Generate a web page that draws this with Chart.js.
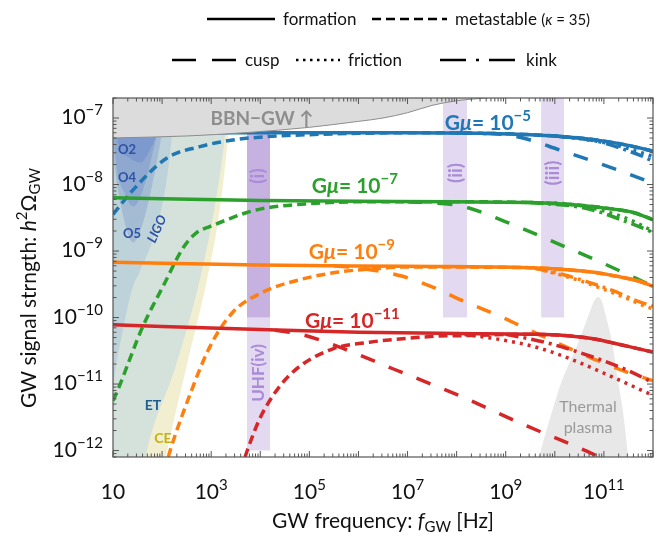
<!DOCTYPE html>
<html>
<head>
<meta charset="utf-8">
<script src="https://cdn.jsdelivr.net/npm/chart.js@4.4.1/dist/chart.umd.min.js"></script>
<style>
html, body { margin: 0; padding: 0; background: #fff; }
#wrap { width: 667px; height: 536px; }
</style>
</head>
<body>
<div id="wrap"><canvas id="gwChart" width="667" height="536"></canvas></div>
<script>
// ---- values: [log10 f / Hz, log10 h^2 Omega_GW] ----
// G mu = 1e-5
const blueFormation = [[1, -7.22], [4, -7.22], [7, -7.22], [8.5, -7.23], [9.5, -7.25], [10.5, -7.3], [11.2, -7.37], [11.9, -7.48], [12, -7.5]];
const blueMetastable = [[1, -8.45], [1.41, -8.08], [2.1, -7.6], [2.77, -7.43], [3.44, -7.33], [4.14, -7.28], [5, -7.25], [6, -7.23], [7, -7.22], [8.5, -7.23], [9.5, -7.25], [10.5, -7.3], [11.2, -7.37], [11.9, -7.48], [12, -7.5]];
const blueCusp = [[8, -7.22], [9, -7.25], [9.35, -7.3], [10.1, -7.48], [10.9, -7.68], [11.5, -7.84], [12, -7.98]];
const blueFriction = [[10, -7.27], [10.5, -7.31], [11.2, -7.4], [11.8, -7.53], [12, -7.58]];
const blueKink = [[10, -7.27], [10.8, -7.34], [11.2, -7.42], [11.8, -7.58], [12, -7.65]];
// G mu = 1e-7
const greenFormation = [[1, -8.2], [4, -8.24], [8, -8.26], [9.5, -8.27], [10.5, -8.31], [11.2, -8.37], [11.6, -8.42], [12, -8.53]];
const greenMetastable = [[1, -11.25], [1.08, -11.12], [1.61, -10.13], [2.02, -9.53], [2.43, -8.95], [2.71, -8.72], [2.98, -8.63], [3.32, -8.53], [3.73, -8.42], [4.14, -8.35], [4.95, -8.29], [6, -8.26], [8, -8.26], [9.5, -8.27], [10.5, -8.31], [11.2, -8.37], [11.6, -8.42], [12, -8.53]];
const greenCusp = [[7, -8.26], [7.6, -8.28], [8.13, -8.33], [9, -8.56], [10, -8.87], [11, -9.19], [12, -9.53]];
const greenFriction = [[9.5, -8.27], [10.37, -8.3], [11.06, -8.41], [11.5, -8.52], [12, -8.7]];
const greenKink = [[9.5, -8.27], [10.65, -8.36], [11.6, -8.6], [12, -8.72]];
// G mu = 1e-9
const orangeFormation = [[1, -9.17], [4, -9.21], [7, -9.23], [9.5, -9.25], [10.25, -9.28], [10.8, -9.32], [11.26, -9.38], [11.7, -9.45], [12, -9.53]];
const orangeMetastable = [[2.05, -12.3], [2.16, -12.01], [2.51, -11.27], [2.98, -10.43], [3.44, -9.92], [4.05, -9.62], [4.81, -9.43], [5.56, -9.32], [6.23, -9.27], [7, -9.24], [9.5, -9.25], [10.25, -9.28], [10.8, -9.32], [11.26, -9.38], [11.7, -9.45], [12, -9.53]];
const orangeCusp = [[5.5, -9.22], [6.23, -9.28], [6.9, -9.38], [7.6, -9.57], [8.13, -9.75], [8.88, -9.98], [9.43, -10.17], [10.1, -10.4], [10.78, -10.62], [11.47, -10.82], [12, -10.95]];
const orangeFriction = [[9.6, -9.26], [10.31, -9.4], [10.8, -9.52], [11.26, -9.65], [11.88, -9.84], [12, -9.87]];
const orangeKink = [[9.6, -9.26], [10.2, -9.36], [10.65, -9.46], [11.2, -9.6], [11.67, -9.75], [12, -9.83]];
// G mu = 1e-11
const redFormation = [[1, -10.11], [4, -10.18], [6, -10.22], [8, -10.24], [9.5, -10.25], [10.2, -10.27], [10.78, -10.32], [11.47, -10.43], [12, -10.52]];
const redMetastable = [[3.6, -12.3], [3.73, -12.01], [3.99, -11.52], [4.4, -11.03], [4.81, -10.73], [5.48, -10.47], [6.23, -10.37], [6.9, -10.32], [7.6, -10.28], [8.27, -10.27], [9.5, -10.25], [10.2, -10.27], [10.78, -10.32], [11.47, -10.43], [12, -10.52]];
const redCusp = [[4.3, -10.19], [4.87, -10.26], [5.56, -10.43], [6.7, -10.77], [8.07, -11.18], [9.43, -11.63], [10.65, -12.01], [11.2, -12.2]];
const redFriction = [[8, -10.24], [8.88, -10.33], [9.64, -10.45], [10.31, -10.62], [10.98, -10.83], [11.67, -11.06], [12, -11.17]];
const redKink = [[9, -10.25], [9.84, -10.38], [10.88, -10.62], [11.5, -10.8], [12, -10.98]];

// shaded regions (lower edges, filled upward) and the thermal plasma bump
const bbnBound = [[1, -7.3], [2.5, -7.27], [3.7, -7.22], [5, -7.14], [6, -7.05], [6.5, -7.0], [7, -6.92], [7.5, -6.81], [8, -6.74], [8.7, -6.69], [9.5, -6.6]];
const ceBound = [[1, -16], [2.1, -12.01], [2.5, -10.73], [2.91, -9.45], [3.15, -8.5], [3.34, -7.3], [3.42, -6.5]];
const etBound = [[1, -15], [1.69, -12.01], [2.26, -10.77], [2.77, -9.43], [3.08, -8.3], [3.28, -7.28], [3.38, -6.5]];
const ligoBound = [[0.8, -13], [1, -11.1], [1.2, -10.2], [1.4, -9.55], [1.55, -9.3], [1.81, -8.83], [2.06, -8.08], [2.2, -7.28], [2.3, -6.5]];
const o5Bound = [[0.9, -6.5], [1, -7.5], [1.2, -8.45], [1.41, -8.87], [1.6, -8.6], [1.8, -8.0], [2, -7.2], [2.12, -6.5]];
const o4Bound = [[0.95, -6.5], [1.05, -7.6], [1.25, -8.15], [1.41, -8.33], [1.6, -8.1], [1.8, -7.55], [1.95, -7.0], [2.02, -6.5]];
const o2Bound = [[1, -6.5], [1.08, -7.3], [1.3, -7.58], [1.55, -7.67], [1.75, -7.48], [1.92, -7.1], [2, -6.5]];
const thermalPlasma = [[9.6, -12.3], [9.74, -11.93], [9.94, -11.42], [10.16, -10.92], [10.45, -10.43], [10.71, -9.92], [10.8, -9.75], [10.88, -9.69], [10.95, -9.74], [11.02, -9.92], [11.18, -10.43], [11.28, -10.92], [11.39, -11.42], [11.47, -11.93], [11.52, -12.3]];

// frequency bands [log10 f low, log10 f high, log10 Omega low, log10 Omega high]
const bandI = [3.73, 4.2, -10, -6];
const bandUHF = [3.73, 4.2, -12, -10];
const bandII = [7.72, 8.21, -10, -6];
const bandIII = [9.72, 10.19, -10, -6];

// tick labels (powers of ten)
const xTickExps = [1, 3, 5, 7, 9, 11];
const yTickExps = [-7, -8, -9, -10, -11, -12];
const tensionExps = ['5', '7', '9', '11'];

const FONT = "Lato, 'DejaVu Sans', sans-serif";
const C = { blue: '#1f77b4', green: '#2ca02c', orange: '#ff7f0e', red: '#d62728' };
const DASH = { formation: [], metastable: [9, 5], cusp: [15, 15], friction: [3, 5], kink: [13, 5, 3, 5] };

const pts = arr => arr.map(p => ({ x: 10 ** p[0], y: 10 ** p[1] }));

function curve(arr, color, style) {
    return {
        data: pts(arr), borderColor: color, borderWidth: 3.5, borderDash: DASH[style],
        borderCapStyle: 'butt', pointRadius: 0, fill: false,
        cubicInterpolationMode: 'monotone', clip: 0
    };
}

function region(arr, fillColor, fillTo, line) {
    return {
        data: pts(arr), borderColor: line || 'rgba(0,0,0,0)', borderWidth: line ? 1 : 0,
        backgroundColor: fillColor, fill: fillTo, pointRadius: 0,
        cubicInterpolationMode: 'monotone', clip: 0
    };
}

function band(b, color) {
    return {
        data: [{ x: 10 ** b[0], y: 10 ** b[3] }, { x: 10 ** b[1], y: 10 ** b[3] }],
        borderColor: 'rgba(0,0,0,0)', borderWidth: 0, backgroundColor: color,
        fill: { value: 10 ** b[2] }, pointRadius: 0, clip: 0
    };
}

// first dataset is drawn on top
const datasets = [
    region(bbnBound, '#dcdcdc', 'end', '#8c8c8c'),
    curve(redFormation, C.red, 'formation'),
    curve(redMetastable, C.red, 'metastable'),
    curve(redKink, C.red, 'kink'),
    curve(redFriction, C.red, 'friction'),
    curve(redCusp, C.red, 'cusp'),
    curve(orangeFormation, C.orange, 'formation'),
    curve(orangeMetastable, C.orange, 'metastable'),
    curve(orangeKink, C.orange, 'kink'),
    curve(orangeFriction, C.orange, 'friction'),
    curve(orangeCusp, C.orange, 'cusp'),
    curve(greenFormation, C.green, 'formation'),
    curve(greenMetastable, C.green, 'metastable'),
    curve(greenKink, C.green, 'kink'),
    curve(greenFriction, C.green, 'friction'),
    curve(greenCusp, C.green, 'cusp'),
    curve(blueFormation, C.blue, 'formation'),
    curve(blueMetastable, C.blue, 'metastable'),
    curve(blueKink, C.blue, 'kink'),
    curve(blueFriction, C.blue, 'friction'),
    curve(blueCusp, C.blue, 'cusp'),
    region(thermalPlasma, '#e8e8e8', 'start'),
    band(bandI, '#c6b1e0'),
    band(bandUHF, '#e3d9f0'),
    band(bandII, '#e3d9f0'),
    band(bandIII, '#e3d9f0'),
    region(o2Bound, 'rgba(60,95,195,0.2)', 'end'),
    region(o4Bound, 'rgba(60,95,195,0.2)', 'end'),
    region(o5Bound, 'rgba(60,95,195,0.2)', 'end'),
    region(ligoBound, 'rgba(90,140,205,0.18)', 'end'),
    region(etBound, 'rgb(213,226,220)', 'end'),
    region(ceBound, '#f2efd0', 'end')
];

// text with mixed fonts: parts = [text, font, dy]
function drawRich(ctx, parts, x, y, align) {
    let w = 0;
    parts.forEach(p => { ctx.font = p[1]; w += ctx.measureText(p[0]).width; });
    let cx = align === 'center' ? x - w / 2 : align === 'right' ? x - w : x;
    ctx.textAlign = 'left';
    ctx.textBaseline = 'alphabetic';
    parts.forEach(p => {
        ctx.font = p[1];
        ctx.fillText(p[0], cx, y + (p[2] || 0));
        cx += ctx.measureText(p[0]).width;
    });
}

function rotText(ctx, text, x, y, angle, font, color) {
    ctx.save();
    ctx.translate(x, y);
    ctx.rotate(angle);
    ctx.font = font;
    ctx.fillStyle = color;
    ctx.textAlign = 'center';
    ctx.textBaseline = 'middle';
    ctx.fillText(text, 0, 0);
    ctx.restore();
}

function seg(ctx, x0, y0, x1, y1) {
    ctx.beginPath();
    ctx.moveTo(x0, y0);
    ctx.lineTo(x1, y1);
    ctx.stroke();
}

const decorations = {
    id: 'decorations',
    afterDraw(chart) {
        const ctx = chart.ctx, a = chart.chartArea;
        const xs = chart.scales.x, ys = chart.scales.y;
        const px = lf => xs.getPixelForValue(10 ** lf);
        const py = lo => ys.getPixelForValue(10 ** lo);
        ctx.save();

        // frame and inward ticks
        ctx.strokeStyle = '#555';
        ctx.lineWidth = 1.2;
        ctx.setLineDash([]);
        ctx.strokeRect(a.left, a.top, a.right - a.left, a.bottom - a.top);
        ctx.lineWidth = 1;
        for (let e = 1; e <= 12; e++) {
            for (let m = 1; m <= 9; m++) {
                const v = m * 10 ** e;
                if (v > 1e12 * 1.001) continue;
                const x = xs.getPixelForValue(v);
                const len = m === 1 ? 6 : 3.5;
                seg(ctx, x, a.bottom, x, a.bottom - len);
                seg(ctx, x, a.top, x, a.top + len);
            }
        }
        for (let e = -13; e <= -7; e++) {
            for (let m = 1; m <= 9; m++) {
                const v = m * 10 ** e;
                if (v < 8e-13 || v > 2e-7) continue;
                const y = ys.getPixelForValue(v);
                const len = m === 1 ? 6 : 3.5;
                seg(ctx, a.left, y, a.left + len, y);
                seg(ctx, a.right, y, a.right - len, y);
            }
        }

        // tick labels
        ctx.fillStyle = '#111';
        const base = '21px ' + FONT, sup = '15px ' + FONT;
        xTickExps.forEach(e => {
            const parts = e === 1 ? [['10', base]] : [['10', base], [String(e), sup, -9]];
            drawRich(ctx, parts, px(e), a.bottom + 42, 'center');
        });
        yTickExps.forEach(e => {
            drawRich(ctx, [['10', base], ['\u2212' + (-e), sup, -9]], 103, py(e) + 6, 'right');
        });

        // axis titles
        const tf = '21px ' + FONT, ti = 'italic 21px ' + FONT, ts = '15px ' + FONT;
        drawRich(ctx, [['GW frequency: ', tf], ['f', ti], ['GW', ts, 4], [' [Hz]', tf]], 383, 528, 'center');
        ctx.save();
        ctx.translate(36, 288);
        ctx.rotate(-Math.PI / 2);
        drawRich(ctx, [['GW signal strngth: ', tf], ['h', ti], ['2', ts, -9], ['\u03a9', tf], ['GW', ts, 4]], 0, 0, 'center');
        ctx.restore();

        // legend
        const lf = '17px ' + FONT;
        ctx.strokeStyle = '#000';
        ctx.lineWidth = 2.5;
        ctx.lineCap = 'butt';
        const legendItems = [
            [207, 275, 19, DASH.formation, [['formation', lf]], 283],
            [372, 447, 19, [9, 5], [['metastable ', lf], ['(', '15px ' + FONT], ['\u03ba', 'italic 15px ' + FONT], [' = 35)', '15px ' + FONT]], 455],
            [172, 237, 60, [24, 16], [['cusp', lf]], 245],
            [296, 340, 60, [2.5, 4.5], [['friction', lf]], 348],
            [440, 515, 60, [26, 10, 3, 10], [['kink', lf]], 526]
        ];
        legendItems.forEach(it => {
            ctx.setLineDash(it[3]);
            seg(ctx, it[0], it[2], it[1], it[2]);
            ctx.setLineDash([]);
            ctx.fillStyle = '#111';
            drawRich(ctx, it[4], it[5], it[2] + 6, 'left');
        });

        // G mu labels
        const gb = 'bold 21px ' + FONT, gi = 'bold italic 21px ' + FONT, gs = 'bold 15px ' + FONT;
        const gAnchors = [[7.76, -7.075, C.blue], [5.05, -8.02, C.green], [4.99, -9.02, C.orange], [4.91, -10.05, C.red]];
        gAnchors.forEach((g, i) => {
            ctx.fillStyle = g[2];
            drawRich(ctx, [['G', gb], ['\u03bc', gi], ['= 10', gb], ['\u2212' + tensionExps[i], gs, -9]], px(g[0]), py(g[1]) + 7, 'left');
        });

        // region labels
        ctx.fillStyle = '#8e8e8e';
        drawRich(ctx, [['BBN\u2212GW \u2191', 'bold 19px ' + FONT]], 262, 125, 'center');
        const dl = 'bold 13px ' + FONT;
        rotText(ctx, 'O2', 127, 150, 0, dl, '#2d52a6');
        rotText(ctx, 'O4', 127, 178, 0, dl, '#2d52a6');
        rotText(ctx, 'O5', 132, 234, 0, dl, '#2d52a6');
        rotText(ctx, 'LIGO', 157, 229, -1.15, 'bold italic 13px ' + FONT, '#2d52a6');
        rotText(ctx, 'ET', 153, 405, 0, 'bold 14px ' + FONT, '#1f5f8e');
        rotText(ctx, 'CE', 163, 438, 0, 'bold 14px ' + FONT, '#c4b014');
        rotText(ctx, 'Thermal', 588, 407, 0, '16px ' + FONT, '#9a9a9a');
        rotText(ctx, 'plasma', 588, 428, 0, '16px ' + FONT, '#9a9a9a');
        const pf = 'bold 19px ' + FONT, pc = '#a98bd8';
        rotText(ctx, '(i)', 258, 176, -Math.PI / 2, pf, pc);
        rotText(ctx, '(ii)', 456, 173, -Math.PI / 2, pf, pc);
        rotText(ctx, '(iii)', 553, 173, -Math.PI / 2, pf, pc);
        rotText(ctx, 'UHF(iv)', 259, 373, -Math.PI / 2, 'bold 17px ' + FONT, pc);

        ctx.restore();
    }
};

new Chart(document.getElementById('gwChart'), {
    type: 'line',
    data: { datasets: datasets },
    options: {
        responsive: false,
        devicePixelRatio: 1,
        animation: false,
        events: [],
        layout: { padding: { top: 98, right: 14, left: 0, bottom: 0 } },
        plugins: { legend: { display: false }, tooltip: { enabled: false } },
        scales: {
            x: {
                type: 'logarithmic', min: 10, max: 1e12,
                grid: { display: false }, border: { display: false },
                ticks: { display: false },
                afterFit(s) { s.height = 79; }
            },
            y: {
                type: 'logarithmic', min: 8e-13, max: 2e-7,
                grid: { display: false }, border: { display: false },
                ticks: { display: false },
                afterFit(s) { s.width = 113; }
            }
        }
    },
    plugins: [decorations]
});
</script>
</body>
</html>
